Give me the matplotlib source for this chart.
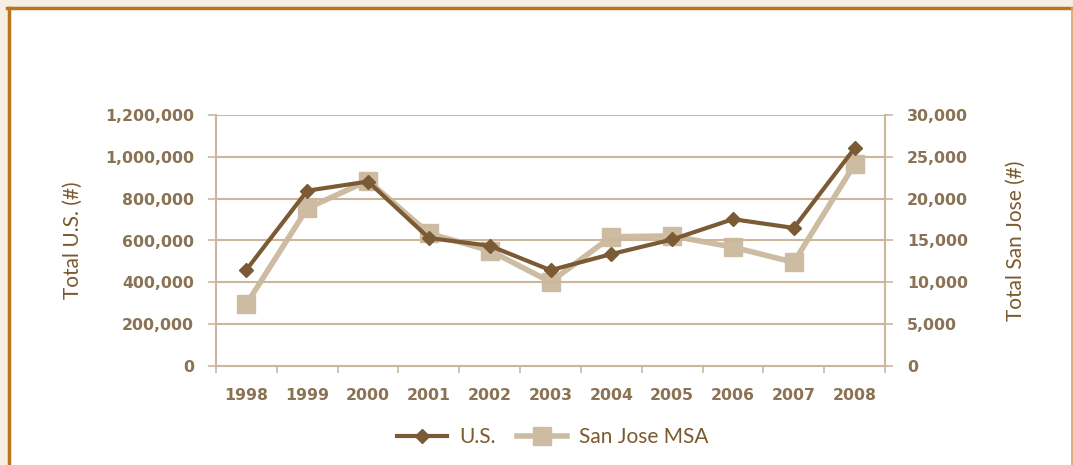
import matplotlib.pyplot as plt
from matplotlib.patches import Rectangle
from matplotlib.lines import Line2D
from matplotlib.ticker import FuncFormatter, MultipleLocator

years = ['1998', '1999', '2000', '2001', '2002', '2003',
         '2004', '2005', '2006', '2007', '2008']
us_total = [460000, 838000, 882000, 612000, 575000, 458000,
            535000, 605000, 702000, 660000, 1041000]
sj_total = [7400, 18850, 22150, 15850, 13800, 10050,
            15450, 15550, 14200, 12400, 24100]

us_color = '#7b5b35'
sj_color = '#cdbba2'
grid_color = '#cbb89c'
tick_color = '#8a7254'
label_color = '#7a5a2e'

fig = plt.figure(figsize=(10.73, 4.65), dpi=100)
fig.patch.set_facecolor('#f6eee3')

W, H = 1073.0, 465.0
# white card with orange frame (bottom runs off the image)
fig.add_artist(Rectangle((8.5 / W, -0.1), (1071 - 8.5) / W, 1.1 - 8.5 / H,
                         transform=fig.transFigure, facecolor='white',
                         edgecolor='none', zorder=-5))
fig.add_artist(Line2D([8.5 / W, 8.5 / W], [0, 1 - 8 / H], transform=fig.transFigure,
                      color='#b9761c', lw=2.5, zorder=-4))
fig.add_artist(Line2D([7 / W, 1071 / W], [1 - 8 / H, 1 - 8 / H], transform=fig.transFigure,
                      color='#b9761c', lw=2.5, zorder=-4))
fig.add_artist(Line2D([1071.5 / W, 1071.5 / W], [0, 1 - 8 / H], transform=fig.transFigure,
                      color='#d9a860', lw=1.2, zorder=-4))

ax = fig.add_axes([216 / W, 1 - 366 / H, (885 - 216) / W, (366 - 115) / H])
ax2 = ax.twinx()

x = list(range(len(years)))
ax.plot(x, us_total, color=us_color, lw=3, marker='D', ms=7, zorder=4)
ax2.plot(x, sj_total, color=sj_color, lw=4, marker='s', ms=13, zorder=3)
ax.set_zorder(ax2.get_zorder() + 1)
ax.patch.set_visible(False)
ax2.patch.set_visible(False)

ax.set_xlim(-0.5, len(years) - 0.5)
ax.set_ylim(0, 1200000)
ax2.set_ylim(0, 30000)
ax.yaxis.set_major_locator(MultipleLocator(200000))
ax2.yaxis.set_major_locator(MultipleLocator(5000))
fmt = FuncFormatter(lambda v, p: '{:,.0f}'.format(v))
ax.yaxis.set_major_formatter(fmt)
ax2.yaxis.set_major_formatter(fmt)

ax.set_xticks(x)
ax.set_xticklabels(years)
ax.set_xticks([i - 0.5 for i in range(len(years) + 1)], minor=True)
ax.tick_params(axis='x', which='major', length=0, pad=16)
ax.tick_params(axis='x', which='minor', length=5, color=grid_color, width=1.2)

for a in (ax, ax2):
    for s in a.spines.values():
        s.set_visible(False)
    a.tick_params(axis='y', length=6, width=1.2, color=grid_color, pad=10)
    for t in a.get_yticklabels() + a.get_xticklabels():
        t.set_fontfamily('DejaVu Sans')
        t.set_fontweight('bold')
        t.set_fontsize(11.3)
        t.set_color(tick_color)

ax.spines['left'].set_visible(True)
ax.spines['bottom'].set_visible(True)
ax2.spines['right'].set_visible(True)
for s in (ax.spines['left'], ax.spines['bottom'], ax2.spines['right']):
    s.set_color(grid_color)
    s.set_linewidth(1.5)

for v in range(200000, 1200001, 200000):
    ax.axhline(v, color=grid_color, lw=1.5, zorder=0)

ax.set_ylabel('Total U.S. (#)', fontfamily='Lato', fontsize=15, color=label_color,
              labelpad=16)
ax2.set_ylabel('Total San Jose (#)', fontfamily='Lato', fontsize=15, color=label_color,
               labelpad=27)

h1 = Line2D([], [], color=us_color, lw=3, marker='D', ms=7)
h2 = Line2D([], [], color=sj_color, lw=4, marker='s', ms=13)
fig.legend([h1, h2], ['U.S.', 'San Jose MSA'], loc='center', ncol=2,
           bbox_to_anchor=(553 / W, 1 - 437 / H), frameon=False,
           prop={'family': 'Lato', 'size': 15}, labelcolor=label_color,
           handlelength=2.4, columnspacing=1.0, handletextpad=0.6)

fig.savefig('out.png', dpi=100, facecolor=fig.get_facecolor())
